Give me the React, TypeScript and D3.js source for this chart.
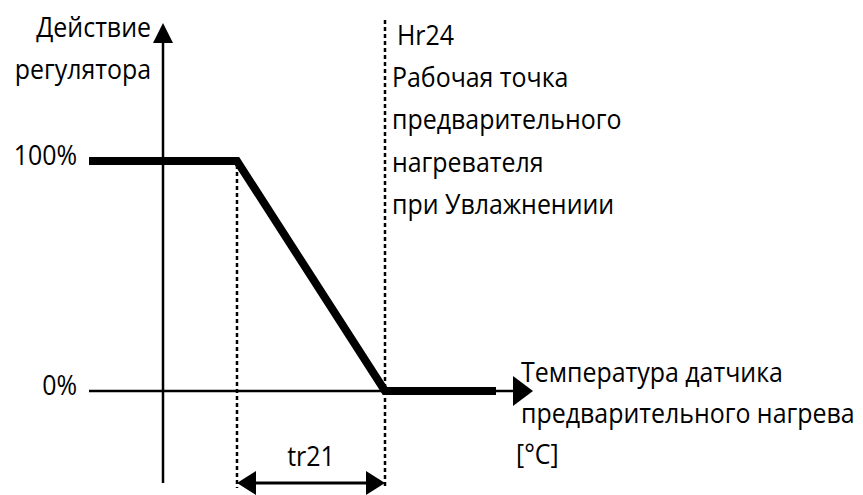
import React from "react";
import * as d3 from "d3";

// Characteristic: regulator action vs preheater sensor temperature
const curveT = [-1, 1, 3, 4.5];
const curveV = [100, 100, 0, 0];
const kneeT = 1; // Hr24 - tr21
const setT = 3; // Hr24
const yTicks = [
  { v: 100, label: "100%" },
  { v: 0, label: "0%" },
];
const yTitle = ["Действие", "регулятора"];
const xTitle = ["Температура датчика", "предварительного нагрева", "[°C]"];
const setLabel = ["Hr24", "Рабочая точка", "предварительного", "нагревателя", "при Увлажнениии"];
const bandLabel = "tr21";

const W = 863;
const H = 495;
const font = "'Open Sans', 'Noto Sans', sans-serif";

// narrow text, like the condensed face of the original
const T = ({ x, y, anchor = "start", children }: { x: number; y: number; anchor?: string; children: string }) => (
  <text transform={`translate(${x},${y}) scale(0.89,1)`} textAnchor={anchor} fontFamily={font} fontSize={28} fill="#000">
    {children}
  </text>
);

export default function App() {
  const x = d3.scaleLinear().domain([0, 1]).range([163, 237]);
  const y = d3.scaleLinear().domain([0, 100]).range([391, 161]);

  const line = d3
    .line<number>()
    .x((d) => x(curveT[d]))
    .y((d) => y(curveV[d]));

  const x0 = x(0);
  const yTop = y(160);
  const yBot = y(-40);
  const xEnd = x(5);
  const arrowY = 483;

  return (
    <svg width={W} height={H} style={{ position: "absolute", left: 0, top: 0 }}>
      <rect width={W} height={H} fill="#fff" />
      {/* axes */}
      <line x1={x0} y1={yTop + 18} x2={x0} y2={yBot} stroke="#000" strokeWidth={2.5} />
      <path d={`M${x0},${yTop} L${x0 - 10},${yTop + 20} L${x0 + 10},${yTop + 20} Z`} fill="#000" />
      <line x1={x(-1)} y1={y(0)} x2={xEnd - 18} y2={y(0)} stroke="#000" strokeWidth={2.5} />
      <path d={`M${xEnd},${y(0)} L${xEnd - 20},${y(0) - 15} L${xEnd - 20},${y(0) + 15} Z`} fill="#000" />

      {/* dotted guides */}
      <line x1={x(kneeT)} y1={y(100) + 4} x2={x(kneeT)} y2={arrowY + 5} stroke="#000" strokeWidth={2.5} strokeDasharray="4,3" />
      <line x1={x(setT)} y1={20} x2={x(setT)} y2={arrowY + 5} stroke="#000" strokeWidth={2.5} strokeDasharray="4,3" />

      {/* curve */}
      <path d={line(d3.range(curveT.length)) || ""} fill="none" stroke="#000" strokeWidth={8} strokeLinejoin="miter" />

      {/* tr21 dimension */}
      <line x1={x(kneeT) + 15} y1={arrowY} x2={x(setT) - 15} y2={arrowY} stroke="#000" strokeWidth={3} />
      <path d={`M${x(kneeT)},${arrowY} L${x(kneeT) + 19},${arrowY - 12} L${x(kneeT) + 19},${arrowY + 12} Z`} fill="#000" />
      <path d={`M${x(setT)},${arrowY} L${x(setT) - 19},${arrowY - 12} L${x(setT) - 19},${arrowY + 12} Z`} fill="#000" />
      <T x={(x(kneeT) + x(setT)) / 2} y={466} anchor="middle">{bandLabel}</T>

      {/* texts */}
      {yTitle.map((t, i) => (
        <T key={t} x={151} y={[37, 79][i]} anchor="end">{t}</T>
      ))}
      {yTicks.map((t) => (
        <T key={t.label} x={77} y={y(t.v) + 4} anchor="end">{t.label}</T>
      ))}
      {setLabel.map((t, i) => (
        <T key={t} x={i === 0 ? 397 : 392} y={[45, 87, 129, 172, 214][i]}>{t}</T>
      ))}
      {xTitle.map((t, i) => (
        <T key={t} x={i === 2 ? 516 : 521} y={[382, 423, 464][i]}>{t}</T>
      ))}
    </svg>
  );
}
